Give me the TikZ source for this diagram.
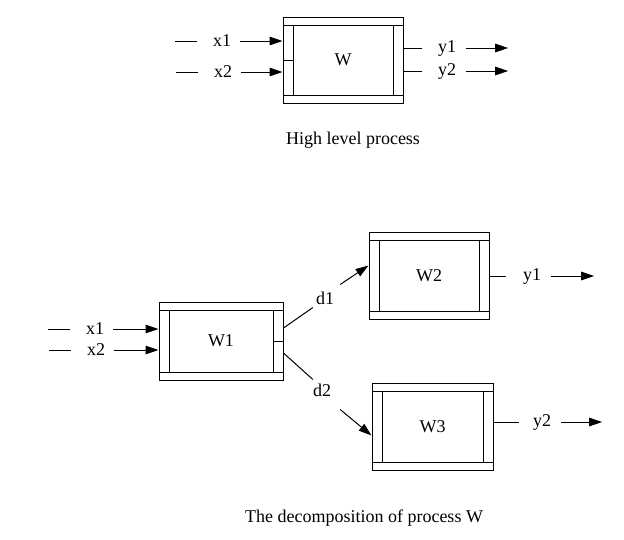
\documentclass[tikz,border=0pt]{standalone}
\usepackage{fontspec}
\setmainfont{Liberation Serif}
\usetikzlibrary{arrows.meta, positioning, calc}
\tikzset{
  wire/.style={line width=1pt, draw=black},
  arrow/.style={-{Triangle[length=13pt,width=8.5pt]}, line width=1pt, draw=black},
  sig/.style={inner sep=0pt},
  procbox/.style={
    rectangle, draw=black, line width=1pt, inner sep=0pt,
    minimum width=120pt, minimum height=86pt,
    path picture={
      \draw[line width=1pt]
        ([yshift=-8pt]path picture bounding box.north west) -- ([yshift=-8pt]path picture bounding box.north east)
        ([yshift=8pt]path picture bounding box.south west) -- ([yshift=8pt]path picture bounding box.south east)
        ([shift={(10pt,-8pt)}]path picture bounding box.north west) -- ([shift={(10pt,8pt)}]path picture bounding box.south west)
        ([shift={(-10pt,-8pt)}]path picture bounding box.north east) -- ([shift={(-10pt,8pt)}]path picture bounding box.south east);
    }
  },
  caption/.style={inner sep=0pt},
}
\begin{document}
\begin{tikzpicture}[x=1pt, y=-1pt, font=\fontsize{18}{21}\selectfont]
  \useasboundingbox (0,0) rectangle (624,539);

  % high level process
  \node[procbox] (W) at (343,60) {W};
  \draw[wire] (W.west) -- ++(10,0);

  \node[sig] (x1a) at (222,41) {x1};
  \node[sig] (x2a) at (223,72) {x2};
  \node[sig] (y1a) at (447,48) {y1};
  \node[sig] (y2a) at (447,71) {y2};

  \foreach \s in {x1a, x2a} {
    \draw[wire] ([xshift=-16pt]\s.west) -- ++(-22,0);
    \draw[arrow] ([xshift=9pt]\s.east) -- (\s -| W.west);
  }
  \foreach \s in {y1a, y2a} {
    \draw[wire] (\s -| W.east) -- ([xshift=-16pt]\s.west);
    \draw[arrow] ([xshift=10pt]\s.east) -- ++(42,0);
  }

  \node[caption] (cap1) at (353,140) {High level process};

  % decomposition
  \node[procbox, minimum width=124pt, minimum height=78pt] (W1) at (221,341) {W1};
  \node[procbox, minimum height=87pt] (W2) at (429,275.5) {W2};
  \node[procbox, minimum width=121pt, minimum height=87pt] (W3) at (432.5,426.5) {W3};
  \draw[wire] (W1.east) -- ++(-10,0);

  \node[sig] (x1b) at (95,329) {x1};
  \node[sig] (x2b) at (96,350) {x2};
  \foreach \s in {x1b, x2b} {
    \draw[wire] ([xshift=-16pt]\s.west) -- ++(-22,0);
    \draw[arrow] ([xshift=9pt]\s.east) -- (\s -| W1.west);
  }

  \node[sig] (d1) at (325,298) {d1};
  \node[sig] (d2) at (322,390) {d2};
  \draw[wire] ([yshift=13pt]W1.east) -- ([shift={(-3pt,-3pt)}]d1.south west);
  \draw[arrow] ([shift={(6pt,7pt)}]d1.north east) -- ([yshift=10pt]W2.west);
  \draw[wire] ([yshift=-12pt]W1.east) -- ([yshift=4pt]d2.north west);
  \draw[arrow] ([shift={(9pt,-13pt)}]d2.south east) -- ([yshift=-9pt]W3.west);

  \node[sig] (y1b) at (532,276) {y1};
  \node[sig] (y2b) at (542,422) {y2};
  \draw[wire] (W2.east |- y1b) -- ([xshift=-17pt]y1b.west);
  \draw[arrow] ([xshift=10pt]y1b.east) -- ++(43,0);
  \draw[wire] (W3.east |- y2b) -- ([xshift=-14pt]y2b.west);
  \draw[arrow] ([xshift=10pt]y2b.east) -- ++(41,0);

  \node[caption] (cap2) at (364,518) {The decomposition of process W};
\end{tikzpicture}
\end{document}
